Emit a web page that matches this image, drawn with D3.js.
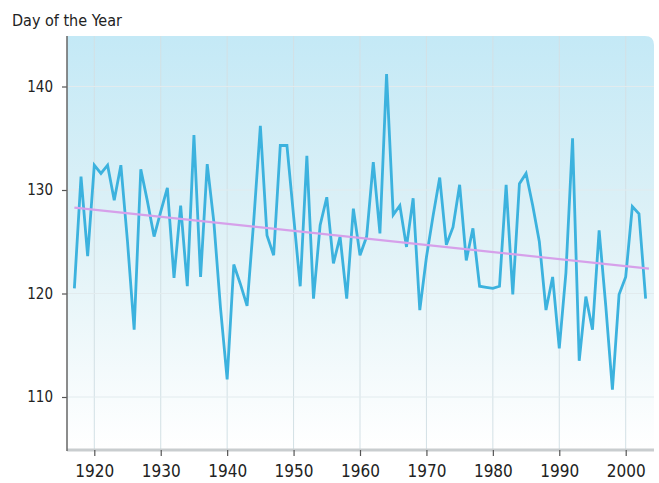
<!DOCTYPE html>
<html>
<head>
<meta charset="utf-8">
<script src="https://cdn.jsdelivr.net/npm/d3@7"></script>
<style>
  body { margin: 0; background: #fff; }
  svg text { font-family: "Liberation Sans Narrow", "DejaVu Sans Condensed", "Roboto", sans-serif; font-stretch: condensed; fill: #222; }
</style>
</head>
<body>
<div id="chart"></div>
<script>
const years = d3.range(1917, 2004);
const dayValues = [
  120.5, 131.3, 123.6, 132.4, 131.6, 132.4, 129.0, 132.4, 125.0, 116.5,
  132.0, 128.9, 125.5, 127.9, 130.2, 121.5, 128.5, 120.7, 135.3, 121.6,
  132.5, 126.9, 118.6, 111.7, 122.8, 120.9, 118.8, 127.0, 136.2, 125.6,
  123.7, 134.3, 134.3, 127.5, 120.7, 133.3, 119.5, 126.6, 129.3, 122.9,
  125.5, 119.5, 128.2, 123.7, 125.5, 132.7, 125.8, 141.2, 127.6, 128.5,
  124.5, 129.2, 118.4, 123.5, 127.5, 131.2, 124.7, 126.4, 130.5, 123.2,
  126.3, 120.7, 120.6, 120.5, 120.7, 130.5, 119.9, 130.6, 131.6, 128.5,
  125.0, 118.4, 121.6, 114.7, 122.0, 135.0, 113.5, 119.7, 116.5, 126.1,
  118.8, 110.7, 119.9, 121.6, 128.4, 127.7, 119.5
];
const trendYears = [1917, 2003.5];
const trendValues = [128.3, 122.4];
const xTicks = [1920, 1930, 1940, 1950, 1960, 1970, 1980, 1990, 2000];
const yTicks = [110, 120, 130, 140];

const width = 659, height = 483;
const plot = { left: 67, right: 654, top: 36, bottom: 449 };

const svg = d3.select("#chart").append("svg")
  .attr("width", width)
  .attr("height", height);

const x = d3.scaleLinear().domain([1920, 2000]).range([94.3, 625.7]);
const y = d3.scaleLinear().domain([110, 140]).range([397, 86.5]);

// background gradient
const defs = svg.append("defs");
const grad = defs.append("linearGradient")
  .attr("id", "bg").attr("x1", 0).attr("y1", 0).attr("x2", 0).attr("y2", 1);
grad.append("stop").attr("offset", "0%").attr("stop-color", "#c4e9f6");
grad.append("stop").attr("offset", "50%").attr("stop-color", "#e0f2f7");
grad.append("stop").attr("offset", "100%").attr("stop-color", "#ffffff");

const r = 9;
svg.append("path")
  .attr("d", `M${plot.left},${plot.top} H${plot.right - r} Q${plot.right},${plot.top} ${plot.right},${plot.top + r} V${plot.bottom} H${plot.left} Z`)
  .attr("fill", "url(#bg)");

// grid
svg.append("g").selectAll("line")
  .data(xTicks).join("line")
  .attr("x1", d => x(d)).attr("x2", d => x(d))
  .attr("y1", plot.top).attr("y2", plot.bottom)
  .attr("stroke", "#d3e0e5").attr("stroke-width", 1);
svg.append("g").selectAll("line")
  .data(yTicks).join("line")
  .attr("x1", plot.left).attr("x2", plot.right)
  .attr("y1", d => y(d)).attr("y2", d => y(d))
  .attr("stroke", "#e2ebee").attr("stroke-width", 1);

// x axis
svg.append("line")
  .attr("x1", plot.left).attr("x2", plot.right)
  .attr("y1", plot.bottom + 1).attr("y2", plot.bottom + 1)
  .attr("stroke", "#c9cdcf").attr("stroke-width", 3);
const xAxis = svg.append("g")
  .attr("transform", `translate(0,${plot.bottom + 1})`)
  .call(d3.axisBottom(x).tickValues(xTicks).tickFormat(d3.format("d")).tickSize(6).tickPadding(9));
xAxis.select(".domain").remove();
xAxis.selectAll(".tick line").attr("stroke", "#555").attr("stroke-width", 1.2);
xAxis.selectAll(".tick text").style("font-size", "17px").attr("fill", "#222");

// y axis
const yAxis = svg.append("g")
  .attr("transform", `translate(${plot.left},0)`)
  .call(d3.axisLeft(y).tickValues(yTicks).tickSize(5).tickPadding(9));
yAxis.select(".domain").remove();
yAxis.selectAll(".tick line").attr("stroke", "#555").attr("stroke-width", 1.2);
yAxis.selectAll(".tick text").style("font-size", "15px").attr("fill", "#222");
svg.append("line")
  .attr("x1", plot.left).attr("x2", plot.left)
  .attr("y1", plot.top).attr("y2", plot.bottom + 2)
  .attr("stroke", "#666").attr("stroke-width", 1.5);

// data line
const line = d3.line().x(d => x(d[0])).y(d => y(d[1]));
svg.append("path")
  .datum(years.map((yr, i) => [yr, dayValues[i]]))
  .attr("d", line)
  .attr("fill", "none")
  .attr("stroke", "#3cb2de")
  .attr("stroke-width", 2.8)
  .attr("stroke-linejoin", "miter");

// trend
svg.append("path")
  .datum(trendYears.map((yr, i) => [yr, trendValues[i]]))
  .attr("d", line)
  .attr("fill", "none")
  .attr("stroke", "#d6a0ea")
  .attr("stroke-width", 2.2);

svg.append("text")
  .attr("x", 12).attr("y", 26)
  .style("font-size", "16px")
  .text("Day of the Year");
</script>
</body>
</html>
